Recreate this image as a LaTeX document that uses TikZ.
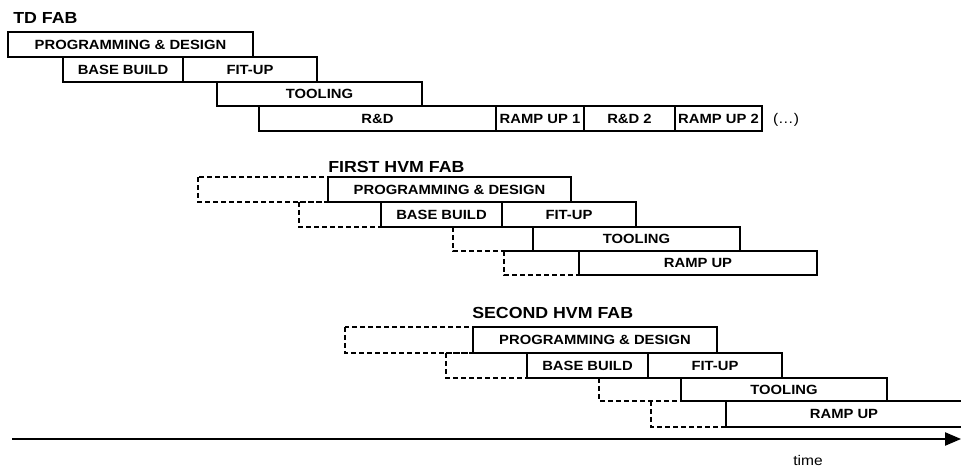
\documentclass[tikz,border=0pt]{standalone}
\usepackage{fontspec}
\setmainfont{Liberation Sans}
\newfontfamily\labfont[FakeStretch=1.11]{Liberation Sans}
\usetikzlibrary{arrows.meta}
\tikzset{
  barline/.style={draw=black, line width=0.9pt},
  dashbox/.style={draw=black, line width=0.8pt, dash pattern=on 3.6pt off 2.4pt},
  lab/.style={font=\labfont\bfseries\fontsize{10}{12}\selectfont, inner sep=0pt},
  ttl/.style={font=\labfont\bfseries\fontsize{12}{14}\selectfont, inner sep=0pt, anchor=west},
  plain/.style={font=\labfont\fontsize{10.5}{12}\selectfont, inner sep=0pt},
  timeline/.style={draw=black, line width=0.9pt, -{Triangle[length=12pt,width=10pt]}}
}
\newcommand\gbar[6]{%
  \draw[barline] (#2,#3) rectangle (#4,#5);
  \node[lab] (#1) at ({(#2+#4)/2},{(#3+#5)/2}) {#6};}
\newcommand\gdash[4]{\draw[dashbox] (#1,#2) rectangle (#3,#4);}
\begin{document}
\begin{tikzpicture}[x=0.75pt,y=-0.75pt]
\useasboundingbox (0,0) rectangle (961,470);
% ---------- TD FAB ----------
\node[ttl] (tdfab) at (13,18) {TD FAB};
\gbar{tdpd}{8}{32}{253}{57}{PROGRAMMING \& DESIGN}
\gbar{tdbb}{63}{57}{183}{82}{BASE BUILD}
\gbar{tdfu}{183}{57}{317}{82}{FIT-UP}
\gbar{tdto}{217}{82}{422}{106}{TOOLING}
\gbar{tdrd}{259}{106}{496}{131}{R\&D}
\gbar{tdru1}{496}{106}{584}{131}{RAMP UP 1}
\gbar{tdrd2}{584}{106}{675}{131}{R\&D 2}
\gbar{tdru2}{675}{106}{762}{131}{RAMP UP 2}
\node[plain] (tddots) at (786,120) {(\dots)};
% ---------- FIRST HVM FAB ----------
\node[ttl] (f1fab) at (328,167) {FIRST HVM FAB};
\gdash{198}{177}{328}{202}
\gdash{299}{202}{381}{227}
\gdash{453}{227}{533}{251}
\gdash{504}{251}{579}{275}
\gbar{f1pd}{328}{177}{571}{202}{PROGRAMMING \& DESIGN}
\gbar{f1bb}{381}{202}{502}{227}{BASE BUILD}
\gbar{f1fu}{502}{202}{636}{227}{FIT-UP}
\gbar{f1to}{533}{227}{740}{251}{TOOLING}
\gbar{f1ru}{579}{251}{817}{275}{RAMP UP}
% ---------- SECOND HVM FAB ----------
\node[ttl] (f2fab) at (472,313) {SECOND HVM FAB};
\gdash{345}{327}{473}{353}
\gdash{446}{353}{527}{378}
\gdash{599}{378}{681}{401}
\gdash{651}{401}{726}{427}
\gbar{f2pd}{473}{327}{717}{353}{PROGRAMMING \& DESIGN}
\gbar{f2bb}{527}{353}{648}{378}{BASE BUILD}
\gbar{f2fu}{648}{353}{782}{378}{FIT-UP}
\gbar{f2to}{681}{378}{887}{401}{TOOLING}
\draw[barline] (965,401) -- (726,401) -- (726,427) -- (965,427);
\node[lab] (f2ru) at (844,414) {RAMP UP};
% ---------- time axis ----------
\coordinate (t0) at (12,439);
\coordinate (t1) at (961,439);
\draw[timeline] (t0) -- (t1);
\node[plain] (time) at (808,460) {time};
\end{tikzpicture}
\end{document}
